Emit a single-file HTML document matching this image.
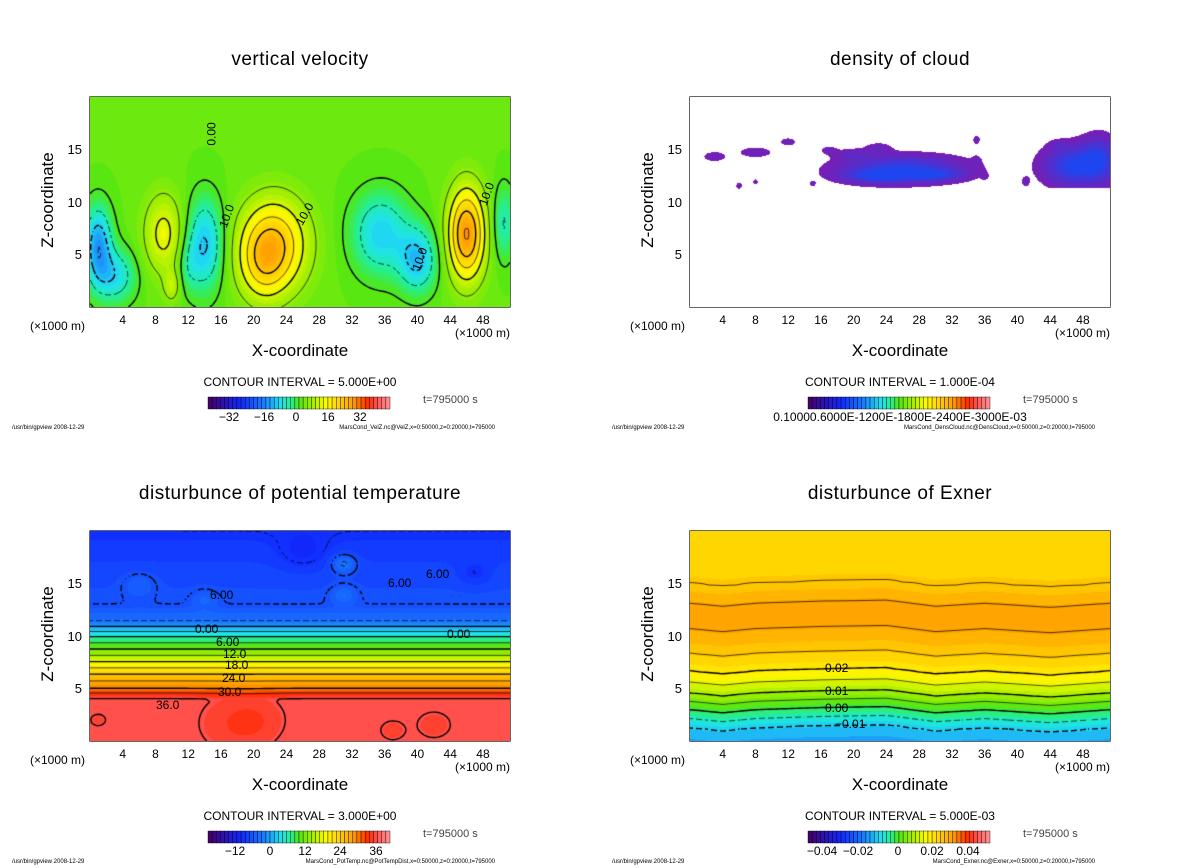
<!DOCTYPE html>
<html><head><meta charset="utf-8">
<style>
body{margin:0;background:#fff;width:1200px;height:868px;position:relative;overflow:hidden;font-family:"Liberation Sans","DejaVu Sans",sans-serif;color:#000}
.t{position:absolute;white-space:nowrap}
canvas{position:absolute}
svg{position:absolute;left:0;top:0}
</style></head><body>
<svg id="axes" width="1200" height="868"></svg>
<script>
// ---------- data ----------
const xTicks=[4,8,12,16,20,24,28,32,36,40,44,48];
const zTicks=[5,10,15];
// vertical velocity blobs
const velX=[22.5,21,46,9,10,1,3,14,35.5,40,50.5,12];
const velZ=[6,4,7,7,2,6,3,6,7,4.5,8,4];
const velAmp=[18,8,24,10,6,-15,-10,-12,-11,-12,-7,-4];
const velSx=[4,2.8,2.2,2.4,1,1.6,2.5,2.2,3.4,2.3,1.3,1.3];
const velSz=[4.3,3.5,4.3,3.8,1.5,3.5,2.5,4.3,3.8,3,3.5,2.5];
// cloud density blobs
const cldX=[26,23,30,47,50,3,8,12,20,23,6,8,15,35,35,41,36,45,17];
const cldZ=[13.2,12.5,12.6,13.5,14.2,14.4,14.8,15.8,14.6,15.2,11.6,12,11.8,16,14,12,12.5,15.5,15];
const cldAmp=[8e-4,6e-4,5e-4,9e-4,6e-4,2e-4,2.2e-4,2e-4,2.5e-4,2.2e-4,1.6e-4,1.6e-4,1.6e-4,1.8e-4,1.5e-4,1.8e-4,1.6e-4,2e-4,1.8e-4];
const cldSx=[7,4,3,3.5,2,1.5,2,1,2,1.5,0.5,0.4,0.4,0.5,0.5,0.5,0.4,1,1];
const cldSz=[1.2,0.6,0.5,1.8,2,0.5,0.5,0.4,0.5,0.5,0.4,0.3,0.3,0.5,0.5,0.5,0.3,0.4,0.4];
// potential temperature profile + perturbations
const ptZ=[0,4,4.6,5,6,7,8,9,10,10.8,11.5,13,16,20];
const ptVal=[36.4,36.3,33,30,26,21,16,11,6,1,-3,-6,-7,-9];
const ptBx=[31,31,18,20,6,42,37,1,14,26,47];
const ptBz=[17,14,1.5,2,15,1.5,1,2,13.5,18,16];
const ptBa=[5,3,-1.4,-1,2,-1,-1,-0.8,2,-2,-2];
const ptBs=[1.5,1.5,4,3,2,2,1.5,1,1.5,3,2];
// exner profile + wave
const exZ=[0,1.3,3,4.6,6.7,8.4,11,13,15.1,17,20];
const exVal=[-0.0135,-0.01,0,0.01,0.02,0.025,0.0305,0.0305,0.025,0.0235,0.023];
const exWaveX=[0,4,8,16,24,30,36,44,51.3];
const exWaveDz=[0,0.3,0,-0.2,-0.3,0.3,0,0.4,0];

// ---------- helpers ----------
function interp(xs,ys,x){if(x<=xs[0])return ys[0];for(let i=1;i<xs.length;i++){if(x<=xs[i]){const f=(x-xs[i-1])/(xs[i]-xs[i-1]);return ys[i-1]+f*(ys[i]-ys[i-1]);}}return ys[ys.length-1];}
const cs=[[0,[70,0,100]],[0.08,[50,16,170]],[0.18,[16,40,255]],[0.3,[26,120,255]],[0.4,[32,224,240]],[0.45,[32,240,160]],[0.5,[80,230,20]],[0.58,[170,240,0]],[0.65,[255,250,0]],[0.72,[255,210,0]],[0.8,[255,155,0]],[0.88,[255,40,0]],[0.93,[255,85,85]],[1,[255,150,150]]];
function cmap(t){t=Math.max(0,Math.min(1,t));for(let i=1;i<cs.length;i++){if(t<=cs[i][0]){const f=(t-cs[i-1][0])/(cs[i][0]-cs[i-1][0]);const a=cs[i-1][1],b=cs[i][1];return [a[0]+f*(b[0]-a[0]),a[1]+f*(b[1]-a[1]),a[2]+f*(b[2]-a[2])];}}return cs[cs.length-1][1];}
const W=420,H=210,XMAX=51.3,ZMAX=20.1;
function blob(x,z,cx,cz,a,sx,sz){const dx=(x-cx)/sx,dz=(z-cz)/sz;return a*Math.exp(-dx*dx-dz*dz);}
const fields={
 vel:(x,z)=>{let v=1.5;for(let i=0;i<velX.length;i++)v+=blob(x,z,velX[i],velZ[i],velAmp[i],velSx[i],velSz[i]);return v;},
 cld:(x,z)=>{let v=0;for(let i=0;i<cldX.length;i++){if(i<5&&z<11.4)continue;v+=blob(x,z,cldX[i],cldZ[i],cldAmp[i],cldSx[i],cldSz[i]);}return v;},
 pt:(x,z)=>{let v=interp(ptZ,ptVal,z);for(let i=0;i<ptBx.length;i++)v+=blob(x,z,ptBx[i],ptBz[i],ptBa[i],ptBs[i],ptBs[i]*0.6);return v;},
 ex:(x,z)=>interp(exZ,exVal,z+interp(exWaveX,exWaveDz,x))
};
const svg=document.getElementById('axes');
const NS='http://www.w3.org/2000/svg';
function line(x1,y1,x2,y2,w,dash){const l=document.createElementNS(NS,'line');l.setAttribute('x1',x1);l.setAttribute('y1',y1);l.setAttribute('x2',x2);l.setAttribute('y2',y2);l.setAttribute('stroke','#000');l.setAttribute('stroke-width',w);if(dash)l.setAttribute('stroke-dasharray',dash);svg.appendChild(l);return l;}
function txt(s,x,y,size,anchor,name,extra){const d=document.createElement('div');d.className='t';d.textContent=s;d.style.left=x+'px';d.style.top=y+'px';d.style.fontSize=size+'px';if(anchor==='c')d.style.transform='translateX(-50%)';if(anchor==='r')d.style.transform='translateX(-100%)';if(extra)Object.assign(d.style,extra);


document.body.appendChild(d);return d;}

function panel(o){
 const X0=o.x,Y0=o.y;
 const c=document.createElement('canvas');c.width=W;c.height=H;c.style.left=X0+'px';c.style.top=Y0+'px';
 
 
 document.body.appendChild(c);
 const g=c.getContext('2d');const img=g.createImageData(W,H);
 const f=fields[o.f];
 for(let j=0;j<H;j++)for(let i=0;i<W;i++){const x=(i+0.5)/W*XMAX,z=(H-j-0.5)/H*ZMAX;const v=f(x,z);let col;
  if(o.f==='cld'){if(v<1e-4)col=[255,255,255];else{const t=Math.min(1,(v-1e-4)/8e-4);col=[120-90*t,30+40*t,180+60*t];}}
  else{let t=(v-o.lo)/(o.hi-o.lo);if(o.nlev){t=(Math.floor(t*o.nlev)+0.5)/o.nlev;}col=cmap(t);}
  const k=(j*W+i)*4;img.data[k]=col[0];img.data[k+1]=col[1];img.data[k+2]=col[2];img.data[k+3]=255;}
 g.putImageData(img,0,0);
 // contours via marching squares
 if(o.levels){const st=3,nx=Math.ceil(W/st)+1,nz=Math.ceil(H/st)+1;const G=[];
  for(let j=0;j<nz;j++){G[j]=[];for(let i=0;i<nx;i++)G[j][i]=f(i*st/W*XMAX,(H-j*st)/H*ZMAX);}
  for(const L of o.levels){const neg=L<-1e-12;g.beginPath();g.lineWidth=(Math.abs(L)%o.thick<1e-9)?1.4:0.7;g.strokeStyle='#000';
   for(let j=0;j<nz-1;j++)for(let i=0;i<nx-1;i++){if(neg&&((i+j)%3===0))continue;const a=G[j][i],b=G[j][i+1],cc=G[j+1][i+1],d=G[j+1][i];const pts=[];
    const e=(p,q,x1,y1,x2,y2)=>{if((p<L)!==(q<L)){const t=(L-p)/(q-p);pts.push([x1+t*(x2-x1),y1+t*(y2-y1)]);}};
    const x=i*st,y=j*st;e(a,b,x,y,x+st,y);e(b,cc,x+st,y,x+st,y+st);e(d,cc,x,y+st,x+st,y+st);e(a,d,x,y,x,y+st);
    for(let k=0;k+1<pts.length;k+=2){g.moveTo(pts[k][0],pts[k][1]);g.lineTo(pts[k+1][0],pts[k+1][1]);}}
   g.stroke();}}
 // frame + ticks
 const r=document.createElementNS(NS,'rect');r.setAttribute('x',X0);r.setAttribute('y',Y0);r.setAttribute('width',W);r.setAttribute('height',H);r.setAttribute('fill','none');r.setAttribute('stroke','#000');r.setAttribute('stroke-width',1.2);
 
 
 svg.appendChild(r);
 const px=k=>X0+k/XMAX*W,pz=z=>Y0+H-z/ZMAX*H;
 for(let k=2;k<XMAX;k+=2){const L=(k%4===0)?6:3;line(px(k),Y0+H,px(k),Y0+H-L,1);line(px(k),Y0,px(k),Y0+L,1);}
 for(let z=1;z<ZMAX;z++){const L=(z%5===0)?6:3;line(X0,pz(z),X0+L,pz(z),1);line(X0+W,pz(z),X0+W-L,pz(z),1);}
 xTicks.forEach(k=>txt(String(k),px(k),Y0+216,12,'c',o.name+'-x-tick-'+k));
 zTicks.forEach(z=>txt(String(z),X0-8,pz(z)-8,13,'r',o.name+'-y-tick-'+z));
 txt(o.title,X0+210,Y0-48,19,'c',o.name+'-title',{letterSpacing:'0.5px'});
 txt('Z-coordinate',X0-42,Y0+103,17,'',o.name+'-y-axis-title',{transform:'translate(-50%,-50%) rotate(-90deg)'});
 txt('(×1000 m)',X0-60,Y0+222,12,'',o.name+'-x-unit-left');
 txt('(×1000 m)',X0+365,Y0+229,12,'',o.name+'-x-unit-right');
 txt('X-coordinate',X0+210,Y0+244,17,'c',o.name+'-x-axis-title');
 txt('CONTOUR INTERVAL = '+o.ci,X0+210,Y0+278,12,'c',o.name+'-contour-interval');
 // colorbar
 const bx=X0+118,by=Y0+300,bw=182,bh=12,n=44;
 for(let i=0;i<n;i++){const col=cmap((i+0.5)/n);const rr=document.createElementNS(NS,'rect');rr.setAttribute('x',bx+i*bw/n);rr.setAttribute('y',by);rr.setAttribute('width',bw/n);rr.setAttribute('height',bh);rr.setAttribute('fill','rgb('+col.map(Math.round).join(',')+')');rr.setAttribute('stroke','#000');rr.setAttribute('stroke-width',0.4);
  
  
  svg.appendChild(rr);}
 o.cbLabels.forEach((s,i)=>txt(s,bx+o.cbPos[i],by+13,12,'c',o.name+'-colorbar-label'));
 txt('t=795000 s',X0+333,Y0+297,11,'',o.name+'-time-label',{color:'#444'});
 txt('/usr/bin/gpview   2008-12-29',X0-78,Y0+328,6,'',o.name+'-footer-left');
 txt(o.foot,X0+405,Y0+328,6,'r',o.name+'-footer-right');
 (o.labels||[]).forEach(l=>txt(l[0],X0+l[1],Y0+l[2],12,'',o.name+'-contour-label',l[3]?{transform:'rotate('+l[3]+'deg)'}:null));
}
const lev=(a,b,s)=>{const r=[];for(let v=a;v<=b+1e-9;v+=s)r.push(Math.round(v/s)*s);return r;};
panel({name:'vertical-velocity',f:'vel',x:90,y:97,lo:-42,hi:42,nlev:60,title:'vertical velocity',ci:'5.000E+00',levels:lev(-30,30,5),thick:10,
 cbLabels:['−32','−16','0','16','32'],cbPos:[21,56,88,120,152],foot:'MarsCond_VelZ.nc@VelZ,x=0:50000,z=0:20000,t=795000',
 labels:[['10.0',203,110,-60],['10.0',125,112,-70],['0.00',110,30,-90],['10.0',385,90,-70],['10.0',318,155,-70]]});
panel({name:'density-of-cloud',f:'cld',x:690,y:97,title:'density of cloud',ci:'1.000E-04',
 cbLabels:['0.10000.6000E-1200E-1800E-2400E-3000E-03'],cbPos:[92],foot:'MarsCond_DensCloud.nc@DensCloud,x=0:50000,z=0:20000,t=795000'});
panel({name:'potential-temperature',f:'pt',x:90,y:531,lo:-21,hi:41,nlev:60,title:'disturbunce of potential temperature',ci:'3.000E+00',levels:lev(-9,36,3),thick:6,
 cbLabels:['−12','0','12','24','36'],cbPos:[27,62,97,132,168],foot:'MarsCond_PotTemp.nc@PotTempDist,x=0:50000,z=0:20000,t=795000',
 labels:[['0.00',105,91],['6.00',126,104],['12.0',133,116],['18.0',135,127],['24.0',132,140],['30.0',128,154],['36.0',66,167],['0.00',357,96],['6.00',120,57],['6.00',298,45],['6.00',336,36]]});
panel({name:'exner',f:'ex',x:690,y:531,lo:-0.048,hi:0.052,nlev:40,title:'disturbunce of Exner',ci:'5.000E-03',levels:lev(-0.015,0.03,0.005),thick:0.01,
 cbLabels:['−0.04','−0.02','0','0.02','0.04'],cbPos:[14,50,90,124,160],foot:'MarsCond_Exner.nc@Exner,x=0:50000,z=0:20000,t=795000',
 labels:[['0.02',135,130],['0.01',135,153],['0.00',135,170],['−0.01',145,186]]});
</script>
</body></html>
